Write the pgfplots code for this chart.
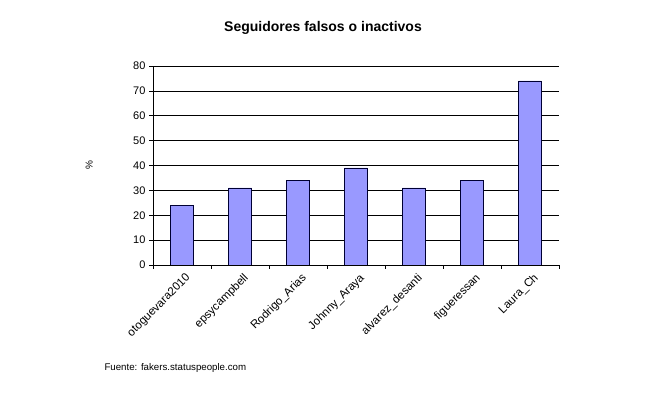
\documentclass[border=0pt]{standalone}
\usepackage{pgfplots}
\pgfplotsset{compat=1.18}
\usepackage{fontspec}
\setmainfont{Liberation Sans}
\definecolor{barfill}{RGB}{153,153,255}
\begin{document}
\begin{tikzpicture}
\useasboundingbox (0pt,0pt) rectangle (653pt,398pt);
\begin{axis}[
  at={(153pt,133pt)}, anchor=south west,
  scale only axis, width=406pt, height=199pt,
  xmin=-0.5, xmax=6.5, ymin=0, ymax=80,
  ytick={0,10,...,80},
  ymajorgrids, grid style={black, line width=0.6pt},
  axis x line*=bottom, axis y line*=left,
  axis line style={black, line width=0.6pt, -},
  xtick={0,...,6},
  xticklabels={otoguevara2010,epsycampbell,Rodrigo\_Arias,Johnny\_Araya,alvarez\_desanti,figueressan,Laura\_Ch},
  major x tick style={draw=none},
  minor xtick={-0.5,0.5,...,6.5},
  tick align=outside,
  major tick length=4pt, minor tick length=4pt,
  tick style={black, line width=0.6pt},
  xticklabel style={rotate=45, anchor=north east, font=\fontsize{11.5}{13}\selectfont, xshift=3pt, yshift=-1pt},
  yticklabel style={font=\fontsize{11}{13}\selectfont},
  /pgf/number format/assume math mode=true,
  ylabel={\%}, ylabel style={font=\fontsize{10}{12}\selectfont, at={(-0.14,0.5)}},
  ybar, bar width=23pt,
]
\addplot[fill=barfill, draw=black!80!blue, line width=0.6pt] coordinates {(0,24) (1,31) (2,34) (3,39) (4,31) (5,34) (6,74)};
\end{axis}
\node[font=\bfseries\fontsize{14}{16}\selectfont] at (323pt,370pt) {Seguidores falsos o inactivos};
\node[anchor=west, font=\fontsize{9.7}{11}\selectfont] at (101pt,30pt) {Fuente: fakers.statuspeople.com};
\end{tikzpicture}
\end{document}
